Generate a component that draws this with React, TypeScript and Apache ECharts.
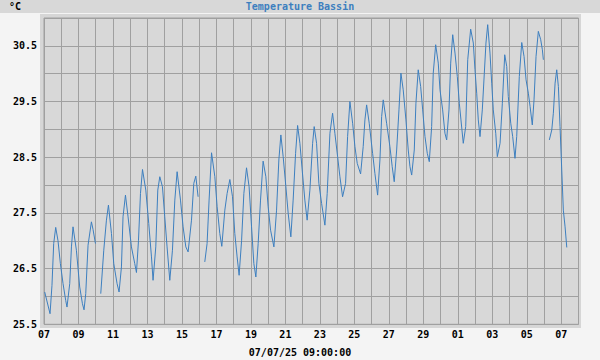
import React, { useEffect, useRef } from "react";
import * as echarts from "echarts";

const chartTitle = "Temperature Bassin";
const unitLabel = "°C";
const footerLabel = "07/07/25 09:00:00";

// x tick labels, one every 2 days starting 07 June (hours since 07 June 00:00)
const xLabels = ["07", "09", "11", "13", "15", "17", "19", "21", "23", "25", "27", "29", "01", "03", "05", "07"];

// hours since 07 June 00:00 ; null temperature = gap in the record
const hours = [
  1.0, 8.4, 11.1, 13.5, 16.3, 19.5, 22.8, 26.5, 30.2, 32.0, 35.8, 38.2, 40.4, 45.1, 49.7, 53.5, 55.7, 58.1, 61.3, 66.0, 68.3, 71.6,
  75.0,
  79.0, 83.2, 86.9, 89.7, 93.9, 97.1, 101.7, 104.5, 107.8, 110.0, 113.4, 117.0, 121.7, 126.3, 128.7, 131.5, 134.3, 137.1, 141.7,
  145.8, 149.6, 151.8, 155.6, 158.4, 161.2, 164.9, 168.1, 171.3, 175.1, 178.8, 182.1, 185.3, 190.0, 193.6, 197.4, 200.6, 205.3,
  208.5, 211.3, 214.5,
  219.0,
  223.8, 227.0, 229.8, 233.2, 237.8, 241.0, 244.7, 247.5, 251.7, 254.9, 258.7, 262.4, 265.6, 268.8, 271.6, 275.0, 278.2, 281.9,
  285.5, 288.9, 292.1, 294.9, 298.1, 301.4, 305.0, 308.8, 312.0, 315.4, 320.0, 323.7, 326.9, 329.7, 332.9, 336.7, 339.9, 343.6,
  346.8, 350.2, 353.0, 356.2, 359.4, 363.1, 366.3, 370.1, 373.9, 376.1, 379.4, 382.6, 386.4, 391.0, 394.2, 398.0, 401.7, 404.9,
  408.7, 411.9, 415.6, 419.8, 422.6, 425.8, 429.6, 432.8, 436.0, 440.7, 444.3, 446.7, 449.1, 452.7, 457.4, 460.6, 464.4, 467.6,
  470.0, 472.2, 476.9, 481.5, 484.7, 487.5, 490.9, 494.1, 496.8, 500.0, 503.8, 507.0, 509.4, 511.8, 515.4, 517.7, 520.9, 524.3,
  527.1, 530.3, 533.5, 536.3, 539.6, 541.8, 545.2, 548.8, 551.2, 554.9, 558.1, 560.5, 563.7, 566.1, 568.9, 572.1, 575.3, 578.1,
  580.4, 583.6, 587.0, 589.8, 593.9, 597.6, 599.9, 602.3, 604.5, 606.9, 610.1, 612.9, 615.2, 617.6, 620.8, 623.2, 625.4, 628.8,
  631.0, 634.8, 638.0, 641.3, 644.1, 646.3, 649.7, 652.4, 655.6, 658.0, 661.6, 665.0, 668.2, 671.0, 674.2, 676.6, 679.7, 682.1,
  684.9, 688.1, 691.4, 693.7, 695.1,
  699.0,
  703.4, 706.8, 709.0, 711.4, 713.7, 716.0, 718.3, 720.7, 722.9, 725.3, 727.7,
];

const temps = [
  26.08, 25.69, 26.2, 26.95, 27.24, 27.0, 26.59, 26.23, 25.93, 25.81, 26.23, 26.89, 27.25, 26.83, 26.17, 25.87, 25.76, 26.05, 26.92, 27.34, 27.2, 26.95,
  null,
  26.05, 26.83, 27.37, 27.64, 27.13, 26.59, 26.23, 26.08, 26.53, 27.43, 27.82, 27.43, 26.89, 26.59, 26.43, 27.0, 27.85, 28.28, 27.91,
  27.31, 26.71, 26.29, 26.89, 27.91, 28.15, 27.97, 27.43, 26.89, 26.29, 26.83, 27.73, 28.24, 27.73, 27.25, 26.89, 26.8, 27.37,
  28.03, 28.16, 27.79,
  null,
  26.62, 26.95, 27.73, 28.58, 28.15, 27.61, 27.13, 26.9, 27.55, 27.85, 28.1, 27.79, 27.13, 26.71, 26.38, 27.0, 27.85, 28.31,
  27.97, 27.25, 26.59, 26.35, 26.95, 27.73, 28.43, 28.15, 27.61, 27.19, 26.89, 27.55, 28.45, 28.9, 28.51, 27.97, 27.49, 27.07,
  27.73, 28.57, 29.07, 28.75, 28.27, 27.73, 27.37, 27.91, 28.75, 29.05, 28.75, 28.03, 27.67, 27.28, 27.85, 28.93, 29.29, 28.93,
  28.51, 28.15, 27.79, 28.03, 28.87, 29.5, 29.11, 28.69, 28.39, 28.2, 28.69, 29.17, 29.44, 29.11, 28.57, 28.21, 27.82, 28.45,
  29.23, 29.53, 29.11, 28.69, 28.33, 28.06, 28.63, 29.35, 30.01, 29.71, 29.17, 28.63, 28.33, 28.18, 28.63, 29.47, 30.07, 29.77,
  29.35, 28.87, 28.57, 28.42, 29.05, 30.01, 30.52, 30.19, 29.71, 29.35, 28.93, 28.81, 29.35, 30.19, 30.7, 30.37, 29.95, 29.47,
  29.17, 28.75, 29.05, 30.25, 30.8, 30.55, 30.07, 29.65, 29.17, 28.87, 29.35, 30.01, 30.55, 30.88, 30.37, 29.83, 29.35, 28.93,
  28.51, 28.75, 29.47, 30.34, 30.13, 29.59, 29.11, 28.87, 28.48, 28.87, 29.95, 30.56, 30.31, 29.89, 29.65, 29.41, 29.08, 29.53,
  30.31, 30.76, 30.61, 30.43, 30.25,
  null,
  28.81, 28.99, 29.29, 29.83, 30.07, 29.77, 29.05, 28.27, 27.55, 27.25, 26.88,
];

const FONT = "'DejaVu Sans Mono', 'Liberation Mono', monospace";

export default function App() {
  const ref = useRef<HTMLDivElement>(null);

  useEffect(() => {
    if (!ref.current) return;
    const chart = echarts.init(ref.current, undefined, { renderer: "svg" });
    const data = hours.map((h, i) => [h, temps[i] === null ? "-" : temps[i]]);
    chart.setOption({
      animation: false,
      backgroundColor: "#f4f4f4",
      title: {
        text: chartTitle,
        left: "center",
        top: 1,
        padding: 0,
        textStyle: { fontFamily: FONT, fontWeight: "bold", fontSize: 10, color: "#3d7fbf" },
      },
      graphic: [
        { type: "rect", z: -10, shape: { x: 0, y: 0, width: 600, height: 13 }, style: { fill: "#d8d8d8" } },
        { type: "rect", z: -10, shape: { x: 40, y: 14, width: 541, height: 314 }, style: { fill: "#d6d6d6" } },
        {
          type: "text",
          x: 9,
          y: 1,
          style: { text: unitLabel, fontFamily: FONT, fontWeight: "bold", fontSize: 10, fill: "#000" },
        },
        {
          type: "text",
          x: 300,
          y: 352,
          style: {
            text: footerLabel,
            fontFamily: FONT,
            fontWeight: "bold",
            fontSize: 10,
            fill: "#000",
            textAlign: "center",
            textVerticalAlign: "middle",
          },
        },
      ],
      grid: {
        left: 44,
        top: 18,
        width: 534.5,
        height: 306.3,
        show: true,
        backgroundColor: "#d8d8d8",
        borderColor: "#a0a0a0",
        borderWidth: 1,
      },
      xAxis: {
        type: "value",
        min: 0,
        max: 744,
        interval: 24,
        axisLine: { show: false },
        axisTick: { show: false },
        splitLine: { show: true, lineStyle: { color: "#a0a0a0", width: 1 } },
        axisLabel: {
          margin: 5,
          fontFamily: FONT,
          fontWeight: "bold",
          fontSize: 10,
          color: "#000",
          showMinLabel: true,
          showMaxLabel: true,
          formatter: (v: number) => (Math.round(v) % 48 === 0 ? xLabels[Math.round(v) / 48] ?? "" : ""),
        },
      },
      yAxis: {
        type: "value",
        min: 25.5,
        max: 31,
        interval: 0.5,
        axisLine: { show: false },
        axisTick: { show: false },
        splitLine: { show: true, lineStyle: { color: "#a0a0a0", width: 1 } },
        axisLabel: {
          margin: 7,
          fontFamily: FONT,
          fontWeight: "bold",
          fontSize: 10,
          color: "#000",
          formatter: (v: number) => (Math.round(v * 10) % 10 === 5 ? v.toFixed(1) : ""),
        },
      },
      series: [
        {
          type: "line",
          data,
          showSymbol: false,
          connectNulls: false,
          lineStyle: { color: "#3d7fbf", width: 1 },
          itemStyle: { color: "#3d7fbf" },
        },
      ],
    });
    return () => chart.dispose();
  }, []);

  return (
    <div
      ref={ref}
      style={{ position: "fixed", left: 0, top: 0, width: 600, height: 360 }}
    />
  );
}
